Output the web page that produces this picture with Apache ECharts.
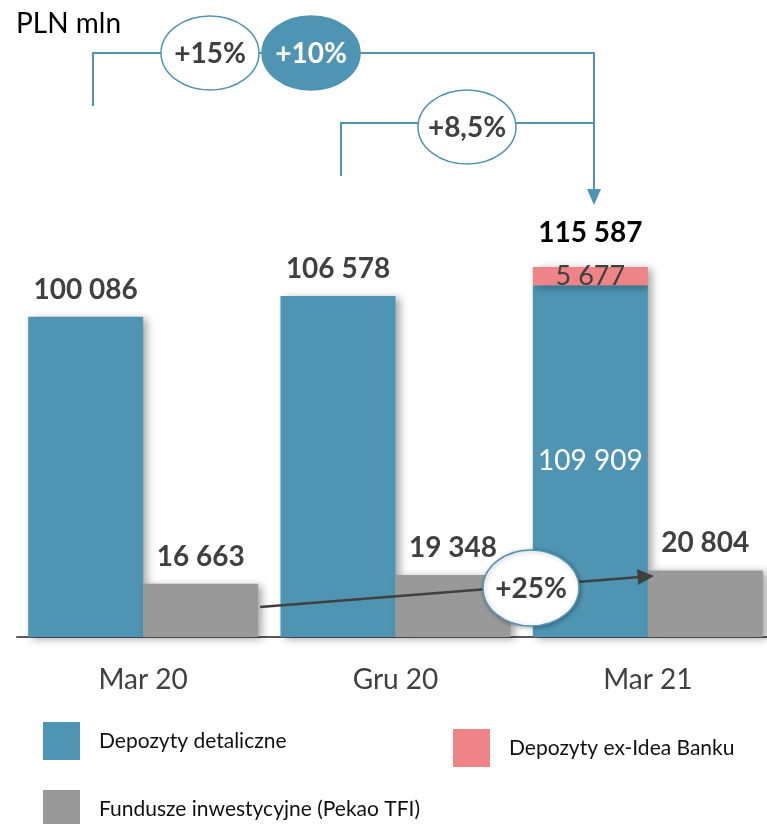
<!DOCTYPE html>
<html>
<head>
<meta charset="utf-8">
<script src="https://cdn.jsdelivr.net/npm/echarts@6/dist/echarts.min.js"></script>
<style>
html,body{margin:0;padding:0;background:#fff;overflow:hidden;width:767px;height:824px;}
#c{width:781px;height:824px;}
</style>
</head>
<body>
<div id="c"></div>
<script>
const categories = ['Mar 20', 'Gru 20', 'Mar 21'];
const retailDeposits = [100086, 106578, 109909];
const ideaDeposits = [null, null, 5677];
const depositTotals = [null, null, 115587];
const investmentFunds = [16663, 19348, 20804];
const growthLabels = ['+15%', '+10%', '+8,5%', '+25%'];
const seriesNames = ['Depozyty detaliczne', 'Depozyty ex-Idea Banku', 'Fundusze inwestycyjne (Pekao TFI)'];

const BLUE = '#4F94B3', PINK = '#EF8488', GRAY = '#999999', DARK = '#404040';
const FONT = 'Lato';
const fmt = v => String(v).replace(/\B(?=(\d{3})+(?!\d))/g, ' ');

const shadow = { shadowBlur: 8, shadowColor: 'rgba(0,0,0,0.35)', shadowOffsetX: 4, shadowOffsetY: 2 };
const topLabel = { show: true, position: 'top', distance: 13, fontFamily: FONT, fontSize: 28, fontWeight: 'bold', color: DARK, formatter: p => fmt(p.value) };
const legendText = { fontFamily: FONT, fontSize: 21, color: '#111', padding: [0, 0, 0, 14] };

const chart = echarts.init(document.getElementById('c'), null, { renderer: 'canvas' });

const option = {
  animation: false,
  backgroundColor: '#fff',
  title: { text: 'PLN mln', left: 11, top: 5, textStyle: { fontFamily: FONT, fontSize: 28, fontWeight: 'normal', color: '#000' } },
  legend: [
    { data: [seriesNames[0]], left: 43, top: 722, itemWidth: 37, itemHeight: 38, icon: 'rect', selectedMode: false, padding: 0, textStyle: legendText },
    { data: [seriesNames[1]], left: 453, top: 729, itemWidth: 37, itemHeight: 38, icon: 'rect', selectedMode: false, padding: 0, textStyle: legendText },
    { data: [seriesNames[2]], left: 43, top: 790, itemWidth: 37, itemHeight: 38, icon: 'rect', selectedMode: false, padding: 0, textStyle: legendText }
  ],
  grid: { left: 17, width: 757, top: 253, bottom: 187, containLabel: false },
  xAxis: {
    type: 'category', data: categories,
    axisLine: { lineStyle: { color: '#595959', width: 2 } },
    axisTick: { show: false },
    axisLabel: { fontFamily: FONT, fontSize: 28, color: DARK, margin: 29 }
  },
  yAxis: { type: 'value', min: 0, max: 120000, show: false, splitLine: { show: false } },
  series: [
    {
      name: seriesNames[0], type: 'bar', stack: 'dep', barWidth: 115, barGap: '0%',
      itemStyle: Object.assign({ color: BLUE }, shadow),
      data: retailDeposits.map((v, i) => ideaDeposits[i] ? {
        value: v,
        label: { show: true, position: 'inside', fontFamily: FONT, fontSize: 28, fontWeight: 'normal', color: '#fff', formatter: p => fmt(p.value) }
      } : { value: v, label: topLabel })
    },
    {
      name: seriesNames[1], type: 'bar', stack: 'dep', barWidth: 115, barGap: '0%',
      itemStyle: Object.assign({ color: PINK }, shadow),
      label: { show: true, position: 'inside', fontFamily: FONT, fontSize: 27, color: DARK, formatter: p => fmt(p.value) },
      data: ideaDeposits
    },
    {
      name: 'total', type: 'bar', stack: 'dep', barWidth: 115, barGap: '0%',
      itemStyle: { color: 'rgba(0,0,0,0)' },
      label: { show: true, position: 'top', distance: 20, fontFamily: FONT, fontSize: 28, fontWeight: 'bold', color: '#000',
        formatter: p => fmt(depositTotals[p.dataIndex]) },
      data: depositTotals.map(v => v ? 0 : null)
    },
    {
      name: seriesNames[2], type: 'bar', barWidth: 115, barGap: '0%',
      itemStyle: Object.assign({ color: GRAY }, shadow),
      label: topLabel,
      data: investmentFunds
    }
  ]
};
chart.setOption(option);

// Annotation overlay (growth bubbles and connectors)
const LW = 2;
const ellipse = (cx, cy, text, filled) => ([
  { type: 'ellipse', z: 100, shape: { cx, cy, rx: 49, ry: 37 },
    style: { fill: filled ? BLUE : '#fff', stroke: BLUE, lineWidth: 1.5 } },
  { type: 'text', z: 101, x: cx, y: cy + 1,
    style: { text, fill: filled ? '#fff' : DARK, font: 'bold 28px ' + FONT, align: 'center', verticalAlign: 'middle' } }
]);
const elements = [
  { type: 'polyline', z: 90, shape: { points: [[93, 106], [93, 53], [594, 53], [594, 191]] }, style: { stroke: BLUE, lineWidth: LW, fill: null } },
  { type: 'polygon', z: 90, shape: { points: [[587, 189], [601, 189], [594, 205]] }, style: { fill: BLUE } },
  { type: 'polyline', z: 90, shape: { points: [[341, 176], [341, 123], [594, 123]] }, style: { stroke: BLUE, lineWidth: LW, fill: null } },
  ...ellipse(210, 53, growthLabels[0], false),
  ...ellipse(311, 53, growthLabels[1], true),
  ...ellipse(467, 127, growthLabels[2], false),
  { type: 'line', z: 95, shape: { x1: 260, y1: 607, x2: 640, y2: 577 }, style: { stroke: DARK, lineWidth: 2.5 } },
  { type: 'polygon', z: 95, shape: { points: [[654, 576], [637, 569], [638, 585]] }, style: { fill: DARK } },
  { type: 'ellipse', z: 100, shape: { cx: 531, cy: 588, rx: 48, ry: 38 },
    style: { fill: '#fff', stroke: BLUE, lineWidth: 1.5, shadowBlur: 4, shadowColor: 'rgba(0,0,0,0.3)', shadowOffsetX: 1, shadowOffsetY: 1 } },
  { type: 'text', z: 101, x: 531, y: 589,
    style: { text: growthLabels[3], fill: DARK, font: 'bold 28px ' + FONT, align: 'center', verticalAlign: 'middle' } }
];
chart.setOption({ graphic: { elements } });
</script>
</body>
</html>
